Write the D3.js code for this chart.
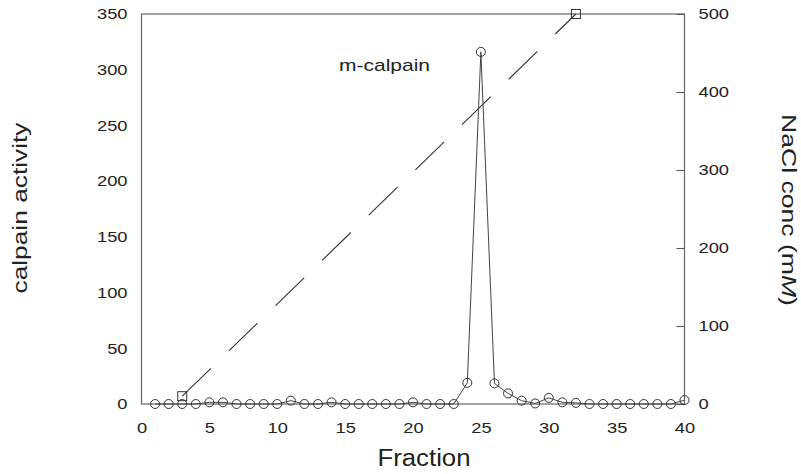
<!DOCTYPE html>
<html>
<head>
<meta charset="utf-8">
<script src="https://cdn.jsdelivr.net/npm/d3@7"></script>
<style>
  body { margin: 0; background: #fff; }
  text { font-family: "Liberation Sans", Arial, Helvetica, sans-serif; fill: #222; }
</style>
</head>
<body>
<div id="chart"></div>
<script>
// fractions 1..40 and calpain activity (left axis)
const fractions = d3.range(1, 41);
const activity = [0, 0, 0, 0, 1.5, 1.5, 0, 0, 0, 0,
                  3, 0, 0, 1.5, 0, 0, 0, 0, 0, 1.5,
                  0, 0, 0, 19, 316, 18.5, 9.5, 3, 0.5, 5.5,
                  1.5, 1, 0, 0, 0, 0, 0, 0, 0, 3.5];
// NaCl gradient (right axis)
const naclFractions = [3, 32];
const naclValues = [10, 500];

const xTicks = [0, 5, 10, 15, 20, 25, 30, 35, 40];
const leftTicks = [0, 50, 100, 150, 200, 250, 300, 350];
const rightTicks = [0, 100, 200, 300, 400, 500];

const width = 801, height = 474;
const margin = { top: 14, right: 116.5, bottom: 70, left: 141.5 };

const svg = d3.select("#chart").append("svg")
    .attr("width", width)
    .attr("height", height);

const x = d3.scaleLinear().domain([0, 40]).range([margin.left, width - margin.right]);
const yL = d3.scaleLinear().domain([0, 350]).range([height - margin.bottom, margin.top]);
const yR = d3.scaleLinear().domain([0, 500]).range([height - margin.bottom, margin.top]);

// stretch text horizontally a bit, like the scanned figure
function stretch(sel, k) {
    sel.each(function () {
        const len = this.getComputedTextLength();
        d3.select(this).attr("textLength", len * k).attr("lengthAdjust", "spacingAndGlyphs");
    });
}

// frame
svg.append("rect")
    .attr("x", x(0)).attr("y", yL(350))
    .attr("width", x(40) - x(0)).attr("height", yL(0) - yL(350))
    .attr("fill", "none").attr("stroke", "#666").attr("stroke-width", 1.2);

// axes
const gx = svg.append("g")
    .attr("transform", `translate(0,${yL(0)})`)
    .call(d3.axisBottom(x).tickValues(xTicks).tickSize(0).tickPadding(18));
const gl = svg.append("g")
    .attr("transform", `translate(${x(0)},0)`)
    .call(d3.axisLeft(yL).tickValues(leftTicks).tickSize(0).tickPadding(14));
const gr = svg.append("g")
    .attr("transform", `translate(${x(40)},0)`)
    .call(d3.axisRight(yR).tickValues(rightTicks).tickSize(-8).tickPadding(14));

[gx, gl, gr].forEach(g => {
    g.select(".domain").remove();
    g.selectAll("line").attr("stroke", "#555").attr("stroke-width", 1.1);
    g.selectAll("text").attr("font-size", 15).attr("fill", "#222");
    stretch(g.selectAll("text"), 1.22);
});

// NaCl dashed line with squares
svg.append("path")
    .datum(naclFractions.map((f, i) => [f, naclValues[i]]))
    .attr("fill", "none").attr("stroke", "#333").attr("stroke-width", 1.1)
    .attr("stroke-dasharray", "40,25")
    .attr("d", d3.line().x(d => x(d[0])).y(d => yR(d[1])));

svg.selectAll(".sq")
    .data(naclFractions.map((f, i) => [f, naclValues[i]]))
    .enter().append("rect")
    .attr("class", "sq")
    .attr("x", d => x(d[0]) - 4.5).attr("y", d => yR(d[1]) - 4.5)
    .attr("width", 9).attr("height", 9)
    .attr("fill", "none").attr("stroke", "#333").attr("stroke-width", 1);

// activity line with circles
svg.append("path")
    .datum(fractions.map((f, i) => [f, activity[i]]))
    .attr("fill", "none").attr("stroke", "#444").attr("stroke-width", 1)
    .attr("d", d3.line().x(d => x(d[0])).y(d => yL(d[1])));

svg.selectAll(".pt")
    .data(fractions.map((f, i) => [f, activity[i]]))
    .enter().append("circle")
    .attr("class", "pt")
    .attr("cx", d => x(d[0])).attr("cy", d => yL(d[1]))
    .attr("r", 4.5)
    .attr("fill", "none").attr("stroke", "#333").attr("stroke-width", 1);

// labels
svg.append("text")
    .attr("x", 339).attr("y", 71)
    .attr("font-size", 17)
    .attr("textLength", 91).attr("lengthAdjust", "spacingAndGlyphs")
    .text("m-calpain");

svg.append("text")
    .attr("x", (x(0) + x(40)) / 2 + 11).attr("y", 466)
    .attr("text-anchor", "middle")
    .attr("font-size", 23)
    .attr("textLength", 93).attr("lengthAdjust", "spacingAndGlyphs")
    .text("Fraction");

svg.append("text")
    .attr("transform", "translate(27,208) rotate(-90)")
    .attr("text-anchor", "middle")
    .attr("font-size", 21)
    .attr("textLength", 171).attr("lengthAdjust", "spacingAndGlyphs")
    .text("calpain activity");

const nacl = svg.append("text")
    .attr("transform", "translate(782,210) rotate(90)")
    .attr("text-anchor", "middle")
    .attr("font-size", 21)
    .attr("textLength", 192).attr("lengthAdjust", "spacingAndGlyphs");
nacl.append("tspan").text("NaCl conc (m");
nacl.append("tspan").attr("font-style", "italic").text("M");
nacl.append("tspan").text(")");
</script>
</body>
</html>
